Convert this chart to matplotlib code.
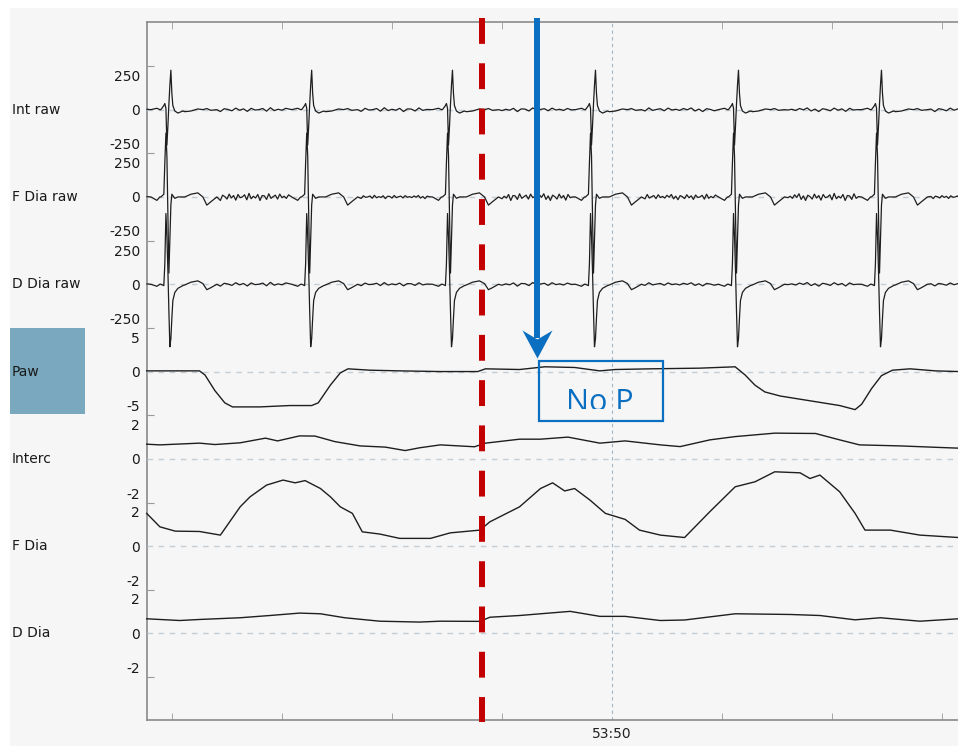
import matplotlib
matplotlib.use("Agg")
import matplotlib.pyplot as plt
import numpy as np
from matplotlib.patches import Rectangle
from matplotlib.path import Path
from matplotlib.transforms import Bbox, TransformedBbox

# ---- data (time in seconds, 0 = 53:50) ----
CHANNELS = ["Int raw", "F Dia raw", "D Dia raw", "Paw", "Interc", "F Dia", "D Dia"]
TICKS = [[-250, 0, 250], [-250, 0, 250], [-250, 0, 250], [-5, 0, 5],
         [-2, 0, 2], [-2, 0, 2], [-2, 0, 2]]
XTICKS = [0]
XTICK_LABELS = ["53:50"]

# heart beats seen as artefact in the raw EMG channels
BEAT_T = [-4.01, -2.73, -1.45, -0.15, 1.15, 2.45]
QRS_DT = [-0.091, -0.064, -0.055, -0.045, -0.036, -0.027, -0.018, -0.009,
          0.0, 0.009, 0.018, 0.036, 0.064, 0.109]
INT_QRS = [0, 30, 45, 10, -260, -120, 40, 180, 290, 120, 30, -10, -25, -10]
FDIA_QRS = [0, 20, 250, 470, 300, -120, -560, -300, -60, 20, 10, -10, 0, 0]
DDIA_QRS = [0, -10, 150, 520, 350, 100, -200, -460, -400, -250, -120, -60, -30, -10]

POST_DT = [0.127, 0.182, 0.245, 0.291, 0.327, 0.364, 0.418]
INT_POST = [-15, -10, 5, 0, 8, -5, 0]
FDIA_POST = [0, 20, 30, 0, -60, -35, 0]
DDIA_POST = [-5, 15, 25, 5, -40, -25, 0]

PRE_DT = [-0.182, -0.127, -0.1]
INT_PRE = [0, 10, 0]
FDIA_PRE = [0, -25, 0]
DDIA_PRE = [0, -15, 0]

# baseline wiggle shape and its size in each gap between beats
WIGGLE = [0.2, -0.4, 0.6, -0.1, 0.9, -0.7, 0.3, -1.0, 0.5, 0.1, -0.6, 0.8,
          -0.3, 0.4, -0.9, 0.7, -0.2, 0.0, 0.6, -0.8, 1.0, -0.5, 0.2, -0.3,
          0.7, -1.0, 0.4, 0.3, -0.7, 0.9, -0.4, 0.1, 0.5, -0.6, 0.8, -0.2]
INT_AMP = [14, 14, 14, 14, 14, 14, 14]
FDIA_AMP = [12, 26, 12, 26, 20, 26, 12]
DDIA_AMP = [12, 14, 12, 14, 12, 14, 12]

PAW_T = [-4.23, -3.75, -3.70, -3.61, -3.52, -3.45, -3.20, -2.93, -2.73, -2.67,
         -2.56, -2.47, -2.40, -2.20, -1.93, -1.56, -1.22, -1.15, -0.84, -0.61,
         -0.34, -0.11, 0.03, 0.35, 0.80, 1.12, 1.21, 1.30, 1.39, 1.53,
         1.80, 2.07, 2.21, 2.27, 2.36, 2.45, 2.55, 2.71, 2.94, 3.15]
PAW_V = [0.1, 0.1, -0.5, -2.8, -4.6, -5.2, -5.2, -5.0, -5.0, -4.6,
         -2.0, -0.2, 0.4, 0.2, 0.1, 0.0, 0.0, 0.4, 0.3, 0.7,
         0.6, 0.1, 0.3, 0.4, 0.5, 0.7, -0.5, -2.0, -3.0, -3.6,
         -4.3, -5.0, -5.6, -4.8, -2.5, -0.6, 0.2, 0.4, 0.1, 0.0]

INTERC_T = [-4.23, -4.11, -3.75, -3.61, -3.38, -3.15, -3.04, -2.84, -2.70, -2.52,
            -2.29, -2.06, -1.88, -1.75, -1.56, -1.25, -1.15, -0.84, -0.65, -0.40,
            -0.11, 0.12, 0.44, 0.62, 0.89, 1.12, 1.48, 1.85, 2.07, 2.25,
            2.62, 2.98, 3.15]
INTERC_V = [0.85, 0.81, 0.91, 0.83, 0.93, 1.20, 1.04, 1.33, 1.32, 1.00,
            0.75, 0.68, 0.48, 0.64, 0.81, 0.70, 0.91, 1.14, 1.14, 1.26,
            0.91, 1.04, 0.81, 0.71, 1.10, 1.29, 1.49, 1.47, 1.10, 0.81,
            0.75, 0.66, 0.62]

FDIA_T = [-4.23, -4.11, -3.97, -3.75, -3.56, -3.38, -3.29, -3.14, -2.99, -2.88,
          -2.79, -2.65, -2.56, -2.47, -2.36, -2.27, -2.11, -1.93, -1.65, -1.47,
          -1.20, -1.11, -0.84, -0.65, -0.54, -0.43, -0.34, -0.20, -0.06, 0.12,
          0.25, 0.44, 0.66, 0.89, 1.12, 1.30, 1.48, 1.71, 1.80, 1.89,
          2.07, 2.21, 2.30, 2.53, 2.80, 3.15]
FDIA_V = [1.9, 1.12, 0.87, 0.85, 0.64, 2.28, 2.86, 3.54, 3.83, 3.67,
          3.8, 3.34, 2.86, 2.28, 1.9, 0.83, 0.7, 0.45, 0.45, 0.77,
          0.93, 1.41, 2.28, 3.34, 3.67, 3.2, 3.34, 2.67, 1.9, 1.55,
          0.93, 0.64, 0.5, 2.0, 3.44, 3.73, 4.31, 4.25, 3.92, 4.12,
          3.15, 1.9, 0.93, 0.93, 0.64, 0.5]

DDIA_T = [-4.23, -3.93, -3.75, -3.38, -3.11, -2.84, -2.65, -2.43, -2.11, -1.75,
          -1.56, -1.20, -1.11, -0.84, -0.65, -0.38, -0.11, 0.12, 0.44, 0.66,
          1.12, 1.62, 1.89, 2.21, 2.44, 2.80, 3.15]
DDIA_V = [0.85, 0.75, 0.81, 0.91, 1.04, 1.18, 1.14, 0.91, 0.71, 0.66,
          0.71, 0.70, 0.94, 1.04, 1.14, 1.28, 0.99, 0.99, 0.75, 0.78,
          1.14, 1.10, 1.04, 0.79, 0.91, 0.71, 0.85]

# annotations
RED_T = -1.18      # red dashed marker
ARROW_T = -0.68    # blue arrow
BOX_T = (-0.664, 0.464)

# ---- layout ----
W, H = 958, 746
XLIM = (-4.227, 3.182)
AX_L, AX_TOP, AX_BOT = 147, 22, 720
BAND0, BAND = 66, 87.3
HALF = [321, 321, 321, 6.42, 2.53, 2.53, 2.53]
BLUE = "#0b6fc1"
INK = "#1e1e1e"


def raw_trace(qrs, post, pre, amps, step):
    t, v = [], []
    for b in BEAT_T:
        t += [b + d for d in PRE_DT + QRS_DT + POST_DT]
        v += list(pre) + list(qrs) + list(post)
    starts = [XLIM[0]] + [b + 0.45 for b in BEAT_T]
    ends = [b - 0.2 for b in BEAT_T] + [XLIM[1]]
    for k, (t0, t1) in enumerate(zip(starts, ends)):
        tt = np.arange(t0, t1, step)
        t += list(tt)
        v += [amps[k] * WIGGLE[(j + 7 * k) % len(WIGGLE)] for j in range(len(tt))]
    order = np.argsort(t)
    return np.array(t)[order], np.array(v)[order]


traces = [
    raw_trace(INT_QRS, INT_POST, INT_PRE, INT_AMP, 0.035),
    raw_trace(FDIA_QRS, FDIA_POST, FDIA_PRE, FDIA_AMP, 0.02),
    raw_trace(DDIA_QRS, DDIA_POST, DDIA_PRE, DDIA_AMP, 0.035),
    (PAW_T, PAW_V),
    (INTERC_T, INTERC_V),
    (FDIA_T, FDIA_V),
    (DDIA_T, DDIA_V),
]

fig = plt.figure(figsize=(W / 100, H / 100), dpi=100, facecolor="white")
fig.add_artist(Rectangle((10 / W, 0), 1, 1 - 8 / H, transform=fig.transFigure,
                         facecolor="#f6f6f6", edgecolor="none", zorder=-10))
fig.add_artist(Rectangle((10 / W, 1 - 414 / H), 75 / W, 86 / H, transform=fig.transFigure,
                         facecolor="#79a8bf", edgecolor="none", zorder=-5))

frame_rect = [AX_L / W, 1 - AX_BOT / H, (962 - AX_L) / W, (AX_BOT - AX_TOP) / H]
frame = fig.add_axes(frame_rect, facecolor="none")
frame.set_xlim(*XLIM)
frame.set_ylim(0, 1)
frame.set_xticks(XTICKS)
frame.set_xticklabels(XTICK_LABELS)
frame.set_xticks(np.arange(-4, 4, 1), minor=True)
bounds = [BAND0 + BAND * i for i in range(8)]
frame.set_yticks([(AX_BOT - b) / (AX_BOT - AX_TOP) for b in bounds])
frame.set_yticklabels([])
frame.tick_params(axis="both", which="both", direction="in", length=5,
                  color="#9a9a9a", top=True, labelsize=10, labelcolor="#222222")
frame.tick_params(axis="x", which="major", length=0, pad=5)
frame.grid(axis="x", which="major", color="#9fb6c6", ls=(0, (3, 3)), lw=0.8)
for s in frame.spines.values():
    s.set_color("#8a8a8a")
    s.set_linewidth(1.2)

for i, (name, (t, v)) in enumerate(zip(CHANNELS, traces)):
    top_px = BAND0 + BAND * i
    ax = fig.add_axes([AX_L / W, 1 - (top_px + BAND) / H, (962 - AX_L) / W, BAND / H],
                      sharex=frame, facecolor="none")
    ax.set_ylim(-HALF[i], HALF[i])
    for s in ax.spines.values():
        s.set_visible(False)
    ax.axhline(0, color="#c3cdd5", lw=1.0, ls=(0, (4, 4)), zorder=0)
    lw = 0.9 if i < 3 else 1.0
    ax.plot(t, v, color=INK, lw=lw, clip_on=False, zorder=2)
    ax.set_yticks(TICKS[i])
    ax.set_yticklabels([str(k) for k in TICKS[i]])
    ax.tick_params(axis="y", length=0, pad=5, labelsize=10, labelcolor="#1a1a1a")
    ax.tick_params(axis="x", which="both", bottom=False, top=False,
                   labelbottom=False, labeltop=False)
    ax.set_ylabel(name, rotation=0, ha="left", va="center", fontsize=10, color="#1a1a1a")
    ax.yaxis.set_label_coords((12 - AX_L) / (962 - AX_L), 0.5)

# overlay for markers drawn on top
top = fig.add_axes(frame_rect, sharex=frame, facecolor="none")
top.set_ylim(0, 1)
top.axis("off")
tr = top.get_xaxis_transform()


def frac(y_px):
    return (AX_BOT - y_px) / (AX_BOT - AX_TOP)


top.plot([RED_T, RED_T], [frac(18), frac(722)], transform=tr, color="#c30000",
         lw=4.3, ls=(0, (4.33, 3.25)), dash_capstyle="butt", clip_on=False, zorder=5)

tip = frac(358)
top.plot([ARROW_T, ARROW_T], [frac(18), tip + 20 / (AX_BOT - AX_TOP)], transform=tr,
         color=BLUE, lw=4.3, solid_capstyle="butt", clip_on=False, zorder=6)
head = Path([(0, 0), (-15, 28), (0, 19), (15, 28), (0, 0)],
            [Path.MOVETO, Path.LINETO, Path.LINETO, Path.LINETO, Path.CLOSEPOLY])
top.plot([ARROW_T], [tip], transform=tr, marker=head, ms=40.3, color=BLUE,
         mec="none", clip_on=False, zorder=6)

top.add_patch(Rectangle((BOX_T[0], frac(421)), BOX_T[1] - BOX_T[0], frac(361) - frac(421),
                        transform=tr, fill=False, edgecolor=BLUE, lw=1.6, clip_on=False,
                        zorder=6))
txt = top.text(-0.109, frac(411), "No P", transform=tr, ha="center", va="baseline",
               fontsize=22, color=BLUE, family=["Open Sans", "DejaVu Sans"], zorder=6)
txt.set_clip_box(TransformedBbox(Bbox([[BOX_T[0], frac(409)], [BOX_T[1], frac(361)]]), tr))
txt.set_clip_on(True)

fig.savefig("out.png", dpi=100)
